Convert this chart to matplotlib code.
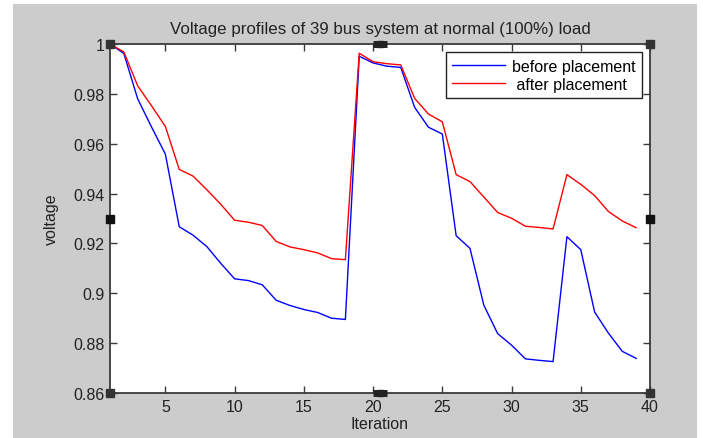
import matplotlib
matplotlib.use("Agg")
import matplotlib.pyplot as plt
from matplotlib.patches import Rectangle

iteration = list(range(1, 40))
before_placement = [1.0, 0.9962, 0.978, 0.9667, 0.9558, 0.9267, 0.9233, 0.9187, 0.912, 0.9058,
                    0.9051, 0.9034, 0.8972, 0.8951, 0.8935, 0.8923, 0.8900, 0.8895, 0.9951, 0.9924,
                    0.9911, 0.9906, 0.9746, 0.9666, 0.9639, 0.9231, 0.9180, 0.8952, 0.8838, 0.8792,
                    0.8737, 0.8731, 0.8726, 0.9227, 0.9175, 0.8925, 0.8840, 0.8767, 0.8739]
after_placement = [1.0, 0.9968, 0.9832, 0.9752, 0.9669, 0.9497, 0.9470, 0.9415, 0.9357, 0.9293,
                   0.9285, 0.9272, 0.9208, 0.9186, 0.9175, 0.9162, 0.9139, 0.9135, 0.9963, 0.9929,
                   0.9921, 0.9916, 0.9782, 0.9719, 0.9688, 0.9476, 0.9448, 0.9386, 0.9324, 0.9301,
                   0.9269, 0.9264, 0.9258, 0.9476, 0.9437, 0.9392, 0.9328, 0.9290, 0.9263]
xticks = [5, 10, 15, 20, 25, 30, 35, 40]
yticks = [0.86, 0.88, 0.90, 0.92, 0.94, 0.96, 0.98, 1.0]
ytick_labels = ["0.86", "0.88", "0.9", "0.92", "0.94", "0.96", "0.98", "1"]

plt.rcParams['font.family'] = ['Liberation Sans', 'DejaVu Sans']

W, H = 703, 439
fig = plt.figure(figsize=(W / 100, H / 100), dpi=100, facecolor="white")
fig.add_artist(Rectangle((13 / W, 0), (697 - 13) / W, (439 - 5) / H,
                         transform=fig.transFigure, facecolor="#cccccc",
                         edgecolor="none", zorder=-10))

ax = fig.add_axes([110 / W, (H - 394) / H, 540 / W, 349 / H])
ax.set_facecolor("white")

ax.plot(iteration, before_placement, color="#0000ff", lw=1.0, label="before placement")
ax.plot(iteration, after_placement, color="#ff0000", lw=1.0, label=" after placement")

ax.set_xlim(1, 40)
ax.set_ylim(0.86, 1.0)
ax.set_xticks(xticks)
ax.set_yticks(yticks)
ax.set_yticklabels(ytick_labels)

fs = 11.5
axis_col = "#3a3a3a"
for s in ax.spines.values():
    s.set_color(axis_col)
    s.set_linewidth(1.3)
ax.tick_params(direction="in", length=5, width=1.0, color=axis_col,
               top=True, right=True, labelsize=fs, labelcolor="#222222", pad=4)

ax.set_title("Voltage profiles of 39 bus system at normal (100%) load",
             fontsize=12.2, color="#222222", pad=8)
ax.set_xlabel("Iteration", fontsize=fs, color="#222222", labelpad=2)
ax.set_ylabel("voltage", fontsize=fs, color="#222222", labelpad=10)

leg = ax.legend(loc="upper right", fontsize=fs, handlelength=3.3, frameon=True,
                fancybox=False, edgecolor="#222222", borderpad=0.42,
                labelspacing=0.18, handletextpad=0.4, borderaxespad=0,
                bbox_to_anchor=(0.985, 0.977))
leg.get_frame().set_linewidth(1.0)
leg.get_frame().set_facecolor("white")
leg.get_frame().set_alpha(1)

# selection handles around the axes
for (hx, hy) in [(0, 0), (1, 0), (0, 1), (1, 1)]:
    ax.plot(hx, hy, marker="s", markersize=5.5, color="#333333",
            transform=ax.transAxes, clip_on=False, zorder=10)
for (hx, hy) in [(0.5, 0), (0.5, 1)]:
    ax.plot(hx, hy, marker="s", markersize=5, color="#222222",
            transform=ax.transAxes, clip_on=False, zorder=10)
    ax.plot(hx, hy, marker="_", markersize=10, mew=5, color="#222222",
            transform=ax.transAxes, clip_on=False, zorder=10)
for (hx, hy) in [(0, 0.5), (1, 0.5)]:
    ax.plot(hx, hy, marker="s", markersize=5.5, color="#111111",
            transform=ax.transAxes, clip_on=False, zorder=10)

fig.savefig("out.png", dpi=100, facecolor=fig.get_facecolor())
